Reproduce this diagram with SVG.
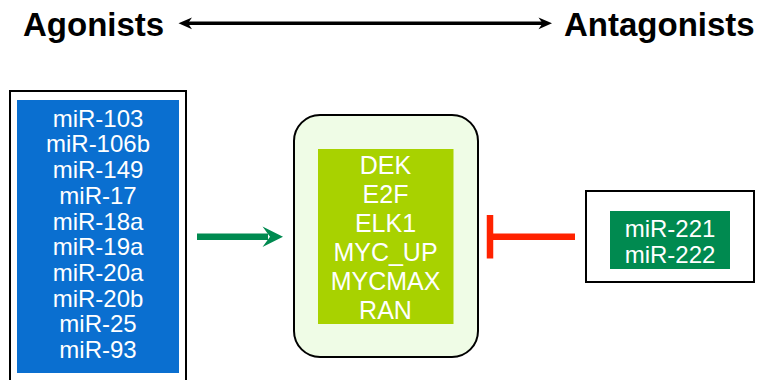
<svg xmlns="http://www.w3.org/2000/svg" width="764" height="380" viewBox="0 0 764 380">
<style>
.title{font-family:"Liberation Sans",Arial,sans-serif;font-weight:bold;font-size:33px;fill:#000}
.lbl{font-family:"Liberation Sans",Arial,sans-serif;font-size:24px;fill:#fff;text-anchor:middle}
.big{font-size:25px}
.frame{fill:#fff;stroke:#000;stroke-width:2}
</style>
<rect width="764" height="380" fill="#fff"/>
<g id="title-agonists"><text class="title" x="23" y="36">Agonists</text></g>
<g id="title-antagonists"><text class="title" x="564" y="36">Antagonists</text></g>
<g id="connectors">
<line x1="186" y1="23.3" x2="544" y2="23.3" stroke="#000" stroke-width="3.5"/>
<path d="M178.5,23.3 L192,17.5 L188,23.3 L192,29.3 Z" fill="#000"/>
<path d="M552,23.3 L538.5,17.5 L542.5,23.3 L538.5,29.3 Z" fill="#000"/>
<line x1="197" y1="236.7" x2="268" y2="236.7" stroke="#008a50" stroke-width="6.5"/>
<path d="M283,236.7 L262.5,226.5 L270,236.7 L262.5,247 Z" fill="#008a50"/>
<line x1="490" y1="236.7" x2="575" y2="236.7" stroke="#ff2200" stroke-width="6.5"/>
<line x1="490" y1="215" x2="490" y2="258.5" stroke="#ff2200" stroke-width="6.5"/>
</g>
<g id="agonists-node">
<rect class="frame" x="10" y="91" width="176" height="292"/>
<rect x="17" y="100" width="162" height="273" fill="#0a6fd0"/>
<text class="lbl" x="98" y="126.7">miR-103</text>
<text class="lbl" x="98" y="152.4">miR-106b</text>
<text class="lbl" x="98" y="178.1">miR-149</text>
<text class="lbl" x="98" y="203.8">miR-17</text>
<text class="lbl" x="98" y="229.5">miR-18a</text>
<text class="lbl" x="98" y="255.2">miR-19a</text>
<text class="lbl" x="98" y="280.9">miR-20a</text>
<text class="lbl" x="98" y="306.6">miR-20b</text>
<text class="lbl" x="98" y="332.3">miR-25</text>
<text class="lbl" x="98" y="358">miR-93</text>
</g>
<g id="targets-node">
<rect x="294" y="115" width="184" height="242" rx="26" ry="26" fill="#effce6" stroke="#000" stroke-width="2"/>
<rect x="318" y="149" width="135.5" height="175" fill="#a8d200"/>
<text class="lbl big" x="385.5" y="174">DEK</text>
<text class="lbl big" x="385.5" y="202.9">E2F</text>
<text class="lbl big" x="385.5" y="231.8">ELK1</text>
<text class="lbl big" x="385.5" y="260.7">MYC_UP</text>
<text class="lbl big" x="385.5" y="289.6">MYCMAX</text>
<text class="lbl big" x="385.5" y="318.5">RAN</text>
</g>
<g id="antagonists-node">
<rect class="frame" x="586" y="191" width="168" height="91"/>
<rect x="610" y="211" width="120" height="58" fill="#008a50"/>
<text class="lbl" x="670" y="236.7">miR-221</text>
<text class="lbl" x="670" y="263.3">miR-222</text>
</g>
</svg>
